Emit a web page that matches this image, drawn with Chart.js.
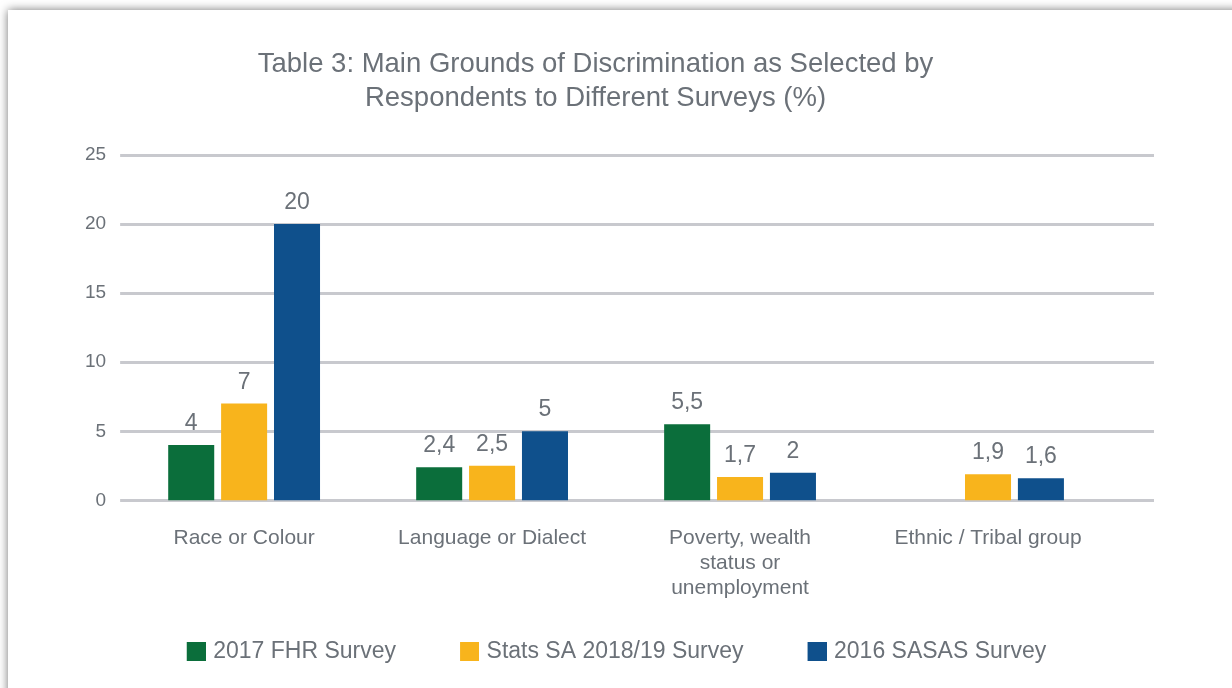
<!DOCTYPE html>
<html lang="en">
<head>
    <meta charset="UTF-8">
    <title>Main Grounds of Discrimination</title>
    <script src="https://cdn.jsdelivr.net/npm/chart.js"></script>
    <style>
        html, body { margin: 0; padding: 0; background: #fff; overflow: hidden; }
        .card {
            position: absolute; left: 8px; top: 10px; width: 1260px; height: 720px;
            background: #fff; box-shadow: 0 0 9px rgba(0, 0, 0, 0.55);
        }
        #chart { position: absolute; left: 0; top: 0; }
    </style>
</head>
<body>
    <div class="card"></div>
    <canvas id="chart" width="1232" height="688"></canvas>

    <script>
        const categories = ['Race or Colour', 'Language or Dialect', ['Poverty, wealth', 'status or', 'unemployment'], 'Ethnic / Tribal group'];
        const fhr2017 = [4, 2.4, 5.5, null];
        const statsSA = [7, 2.5, 1.7, 1.9];
        const sasas2016 = [20, 5, 2, 1.6];
        const yTicks = [0, 5, 10, 15, 20, 25];

        const colours = ['#0b6e3b', '#f8b41c', '#0f508c'];
        const textGrey = '#6b7178';
        const gridGrey = '#c8c9ce';
        const FONT = "'Liberation Sans', Arial, sans-serif";

        // legend swatch with empty room on its left, so items sit further apart
        const BOX = 19, GAP = 38, NUDGE = 4;
        function swatch(colour) {
            const c = document.createElement('canvas');
            c.width = BOX + GAP + 2 * NUDGE;
            c.height = BOX;
            const g = c.getContext('2d');
            g.fillStyle = colour;
            g.fillRect(GAP + 2 * NUDGE, 0, BOX, BOX);
            return c;
        }
        const swatches = colours.map(swatch);

        // gridlines run a bit past the last category, like the original
        const gridPlugin = {
            id: 'longGrid',
            beforeDatasetsDraw(chart) {
                const { ctx, chartArea, scales } = chart;
                ctx.save();
                ctx.strokeStyle = gridGrey;
                ctx.lineWidth = 3;
                yTicks.forEach(t => {
                    const y = Math.round(scales.y.getPixelForValue(t)) + 0.5;
                    ctx.beginPath();
                    ctx.moveTo(chartArea.left, y);
                    ctx.lineTo(chartArea.right + 42, y);
                    ctx.stroke();
                });
                ctx.restore();
            }
        };

        const labelPlugin = {
            id: 'barLabels',
            afterDatasetsDraw(chart) {
                const ctx = chart.ctx;
                ctx.save();
                ctx.font = '23px ' + FONT;
                ctx.fillStyle = textGrey;
                ctx.textAlign = 'center';
                ctx.textBaseline = 'alphabetic';
                chart.data.datasets.forEach((ds, i) => {
                    chart.getDatasetMeta(i).data.forEach((bar, j) => {
                        const v = ds.data[j];
                        if (v === null) return;
                        ctx.fillText(String(v).replace('.', ','), bar.x, bar.y - 15);
                    });
                });
                ctx.restore();
            }
        };

        new Chart(document.getElementById('chart'), {
            type: 'bar',
            data: {
                labels: categories,
                datasets: [
                    { label: '2017 FHR Survey', data: fhr2017, backgroundColor: colours[0] },
                    { label: 'Stats SA 2018/19 Survey', data: statsSA, backgroundColor: colours[1] },
                    { label: '2016 SASAS Survey', data: sasas2016, backgroundColor: colours[2] }
                ]
            },
            options: {
                responsive: false,
                animation: false,
                categoryPercentage: 0.64,
                barPercentage: 0.87,
                layout: { padding: { left: 79, right: 120, top: 47, bottom: 15 } },
                plugins: {
                    title: {
                        display: true,
                        text: ['Table 3: Main Grounds of Discrimination as Selected by', 'Respondents to Different Surveys (%)'],
                        color: textGrey,
                        font: { family: FONT, size: 27.5, weight: 'normal', lineHeight: 1.25 },
                        padding: { top: 0, bottom: 39 }
                    },
                    legend: {
                        position: 'bottom',
                        labels: {
                            color: textGrey,
                            font: { family: FONT, size: 23 },
                            usePointStyle: true,
                            pointStyleWidth: BOX + GAP,
                            boxHeight: BOX,
                            padding: 22,
                            generateLabels(chart) {
                                return Chart.defaults.plugins.legend.labels.generateLabels(chart)
                                    .map((item, i) => Object.assign(item, { pointStyle: swatches[i] }));
                            }
                        }
                    },
                    tooltip: { enabled: false }
                },
                scales: {
                    x: {
                        grid: { display: false },
                        border: { display: false },
                        ticks: { color: textGrey, font: { family: FONT, size: 21, lineHeight: 1.2 }, padding: 17, maxRotation: 0 }
                    },
                    y: {
                        min: 0,
                        max: 25,
                        grid: { display: false },
                        border: { display: false },
                        ticks: { stepSize: 5, color: textGrey, font: { family: FONT, size: 19 }, padding: 6 }
                    }
                }
            },
            plugins: [gridPlugin, labelPlugin]
        });
    </script>
</body>
</html>
